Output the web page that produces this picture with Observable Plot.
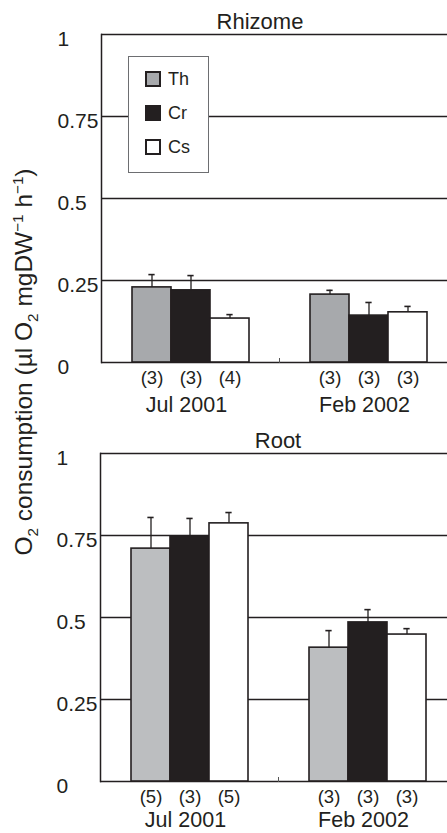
<!DOCTYPE html>
<html><head><meta charset="utf-8">
<script src="https://cdn.jsdelivr.net/npm/d3@7"></script>
<script src="https://cdn.jsdelivr.net/npm/@observablehq/plot@0.6"></script>
<style>
html,body{margin:0;padding:0;background:#fff;overflow:hidden;}
#root{position:relative;width:447px;height:833px;overflow:hidden;font-family:"Liberation Sans",Arial,sans-serif;color:#231f20;}
.panel{position:absolute;left:0;}
.title{position:absolute;font-size:22px;line-height:1;transform:translate(-50%,-50%);white-space:nowrap;}
#ylabel{position:absolute;left:24px;top:362px;transform:translate(-50%,-50%) rotate(-90deg);white-space:nowrap;font-size:24.5px;line-height:1;}
#ylabel sub,#ylabel sup{font-size:62%;line-height:0;}
.legend{position:absolute;left:128px;top:56px;width:81px;height:117px;box-sizing:border-box;border:1px solid #6d6e71;background:#fff;}
.legend .item{position:absolute;left:16px;height:20px;display:flex;align-items:center;font-size:18px;transform:translateY(-50%);}
.legend .sw{width:16px;height:16px;box-sizing:border-box;border:2px solid #231f20;margin-right:7px;}
</style></head>
<body><div id="root"></div>
<script>
// ---- data ----
const series = ["Th", "Cr", "Cs"];
const groups = ["Jul 2001", "Feb 2002"];
const yTicks = [0, 0.25, 0.5, 0.75, 1];

const rhizomeJulMean = [0.229, 0.220, 0.134];
const rhizomeJulErr  = [0.039, 0.045, 0.012];
const rhizomeJulN    = [3, 3, 4];
const rhizomeFebMean = [0.207, 0.143, 0.153];
const rhizomeFebErr  = [0.013, 0.040, 0.018];
const rhizomeFebN    = [3, 3, 3];

const rootJulMean = [0.710, 0.747, 0.787];
const rootJulErr  = [0.095, 0.055, 0.033];
const rootJulN    = [5, 3, 5];
const rootFebMean = [0.408, 0.485, 0.448];
const rootFebErr  = [0.052, 0.039, 0.018];
const rootFebN    = [3, 3, 3];

const rhizomeFills = ["#a7a9ac", "#231f20", "#ffffff"];
const rootFills = ["#bcbec0", "#231f20", "#ffffff"];

function rowsOf(means, errs, ns) {
  const out = [];
  groups.forEach((g, gi) => series.forEach((s, si) => out.push({
    group: g, series: s, mean: means[gi][si], err: errs[gi][si], n: ns[gi][si]
  })));
  return out;
}
const rhizomeRows = rowsOf([rhizomeJulMean, rhizomeFebMean], [rhizomeJulErr, rhizomeFebErr], [rhizomeJulN, rhizomeFebN]);
const rootRows = rowsOf([rootJulMean, rootFebMean], [rootJulErr, rootFebErr], [rootJulN, rootFebN]);

const INK = "#231f20";
const W = 460;
const pOuter = 0.74;

function panel(rows, fillRange, o) {
  const facetW = (W - o.marginLeft - o.marginRight) / groups.length;
  const bw = facetW / (series.length + 2 * pOuter);
  const capInset = bw / 2 - 3.5;
  const innerH = o.height - o.marginTop - o.marginBottom;
  return Plot.plot({
    width: W, height: o.height,
    marginLeft: o.marginLeft, marginRight: o.marginRight,
    marginTop: o.marginTop, marginBottom: o.marginBottom,
    style: "max-width:none;background:transparent;overflow:visible;font-family:'Liberation Sans',Arial,sans-serif;color:#231f20;",
    fx: {domain: groups, padding: 0, axis: null},
    x: {domain: series, paddingInner: 0, paddingOuter: pOuter, axis: null},
    y: {domain: [0, 1], axis: null},
    color: {domain: series, range: fillRange},
    marks: [
      Plot.ruleY(yTicks, {stroke: INK, strokeWidth: 1.3}),
      Plot.frame({anchor: "left", facetAnchor: "left", stroke: INK, strokeWidth: 1.5}),
      Plot.frame({anchor: "left", facetAnchor: "right", insetTop: innerH - 4, stroke: "#555", strokeWidth: 1}),
      Plot.axisY({ticks: yTicks, tickFormat: d => String(d), tickSize: 0, tickPadding: 44,
        textAnchor: "start", fontSize: 21, dy: 5, label: null, fill: INK}),
      Plot.barY(rows, {fx: "group", x: "series", y: "mean", fill: "series", stroke: INK, strokeWidth: 1.6}),
      Plot.ruleX(rows, {fx: "group", x: "series", y1: "mean", y2: d => d.mean + d.err, stroke: INK, strokeWidth: 1.3}),
      Plot.tickY(rows, {fx: "group", x: "series", y: d => d.mean + d.err, stroke: INK, strokeWidth: 1.6,
        insetLeft: capInset, insetRight: capInset}),
      Plot.text(rows, {fx: "group", x: "series", y: 0, text: d => `(${d.n})`, dy: 16, fontSize: 18.5, lineAnchor: "middle", fill: INK}),
      Plot.text(groups, {fx: d => d, frameAnchor: "bottom", lineAnchor: "middle", dy: o.groupDy, dx: -4, text: d => d, fontSize: 21.5, fill: INK})
    ]
  });
}

const root = document.getElementById("root");

const topPanel = panel(rhizomeRows, rhizomeFills, {height: 420, marginLeft: 101, marginRight: 3, marginTop: 34, marginBottom: 58, groupDy: 43});
topPanel.classList.add("panel"); topPanel.style.top = "0px";
root.appendChild(topPanel);

const bottomPanel = panel(rootRows, rootFills, {height: 413, marginLeft: 100, marginRight: 4, marginTop: 33, marginBottom: 52, groupDy: 39});
bottomPanel.classList.add("panel"); bottomPanel.style.top = "420px";
root.appendChild(bottomPanel);

function addTitle(text, x, y) {
  const t = document.createElement("div");
  t.className = "title"; t.textContent = text;
  t.style.left = x + "px"; t.style.top = y + "px";
  root.appendChild(t);
}
addTitle("Rhizome", 260, 22);
addTitle("Root", 278, 441);

// legend
const legend = document.createElement("div");
legend.className = "legend";
series.forEach((s, i) => {
  const it = document.createElement("div");
  it.className = "item";
  it.style.top = (22 + i * 34) + "px";
  const sw = document.createElement("span");
  sw.className = "sw"; sw.style.background = rhizomeFills[i];
  const lb = document.createElement("span");
  lb.textContent = s;
  it.appendChild(sw); it.appendChild(lb);
  legend.appendChild(it);
});
root.appendChild(legend);

// y label
const yl = document.createElement("div");
yl.id = "ylabel";
yl.innerHTML = "O<sub>2</sub> consumption (µl O<sub>2</sub> mgDW<sup>−1</sup> h<sup>−1</sup>)";
root.appendChild(yl);
</script>
</body></html>
